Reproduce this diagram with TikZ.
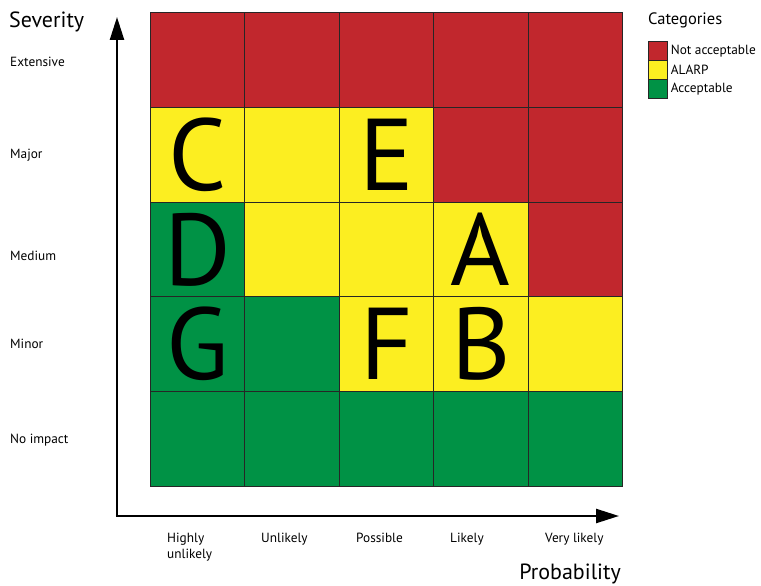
\documentclass[tikz,border=0pt]{standalone}
\usepackage{fontspec}
\setmainfont{PT Sans}
\usetikzlibrary{arrows.meta,positioning}
\definecolor{riskred}{RGB}{193,39,45}
\definecolor{riskyellow}{RGB}{252,238,33}
\definecolor{riskgreen}{RGB}{0,146,69}

\begin{document}
\begin{tikzpicture}[x=1pt,y=-1pt,
  cell/.style={draw=black!85,line width=0.8pt,minimum width=94.4pt,minimum height=94.8pt,
    inner sep=0pt,anchor=north west},
  lbl/.style={font=\fontsize{13.3}{16}\selectfont,anchor=west,inner sep=0pt},
  collbl/.style={font=\fontsize{13.3}{16}\selectfont,anchor=north west,align=left,inner sep=0pt},
  title/.style={font=\fontsize{22}{24}\selectfont,inner sep=0pt},
  letter/.style={font=\fontsize{102}{102}\selectfont,inner sep=0pt},
  key/.style={draw=black!85,line width=0.6pt,minimum size=19pt,inner sep=0pt,anchor=north west},
  axis/.style={line width=2.4pt,-{Triangle[length=23pt,width=14pt]}}]
  \useasboundingbox (0,0) rectangle (761,586);

  % risk matrix, one row per severity
  \foreach \cols [count=\r from 0] in {
      {riskred,riskred,riskred,riskred,riskred},
      {riskyellow,riskyellow,riskyellow,riskred,riskred},
      {riskgreen,riskyellow,riskyellow,riskyellow,riskred},
      {riskgreen,riskgreen,riskyellow,riskyellow,riskyellow},
      {riskgreen,riskgreen,riskgreen,riskgreen,riskgreen}}
    \foreach \col [count=\c from 0] in \cols
      \node[cell,fill=\col] (cell-\r-\c) at (150+94.4*\c,12+94.8*\r) {};

  % risk items
  \node[letter] at (cell-1-0) {C};
  \node[letter] at (cell-1-2) {E};
  \node[letter] at (cell-2-0) {D};
  \node[letter] at (cell-2-3) {A};
  \node[letter] at (cell-3-0) {G};
  \node[letter] at (cell-3-2) {F};
  \node[letter] at (cell-3-3) {B};

  % axes
  \coordinate (origin) at (117,516);
  \coordinate (ytip) at (117,17);
  \coordinate (xtip) at (619,516);
  \draw[axis] (origin) -- (ytip);
  \draw[axis] ([xshift=-1.2pt]origin) -- (xtip);

  \node[title,anchor=north west] (sev) at (9,12) {Severity};
  \node[title,anchor=south east] (prob) at (621,584) {Probability};

  \node[lbl] (l0) at (10,62) {Extensive};
  \node[lbl] (l1) at (10,155) {Major};
  \node[lbl] (l2) at (10,256) {Medium};
  \node[lbl] (l3) at (10,344) {Minor};
  \node[lbl] (l4) at (10,440) {No impact};

  \node[collbl] (p0) at (167,533) {Highly\\unlikely};
  \node[collbl] (p1) at (261,533) {Unlikely};
  \node[collbl] (p2) at (356,533) {Possible};
  \node[collbl] (p3) at (450,533) {Likely};
  \node[collbl] (p4) at (545,533) {Very likely};

  % legend
  \node[anchor=north west,inner sep=0pt,font=\fontsize{16.5}{18}\selectfont] (cat) at (648,13) {Categories};
  \node[key,fill=riskred] (k0) at (648,41) {};
  \node[key,fill=riskyellow] (k1) at (648,60) {};
  \node[key,fill=riskgreen] (k2) at (648,79) {};
  \node[lbl,right=3pt of k0] {Not acceptable};
  \node[lbl,right=3pt of k1] {ALARP};
  \node[lbl,right=3pt of k2] {Acceptable};
\end{tikzpicture}
\end{document}
